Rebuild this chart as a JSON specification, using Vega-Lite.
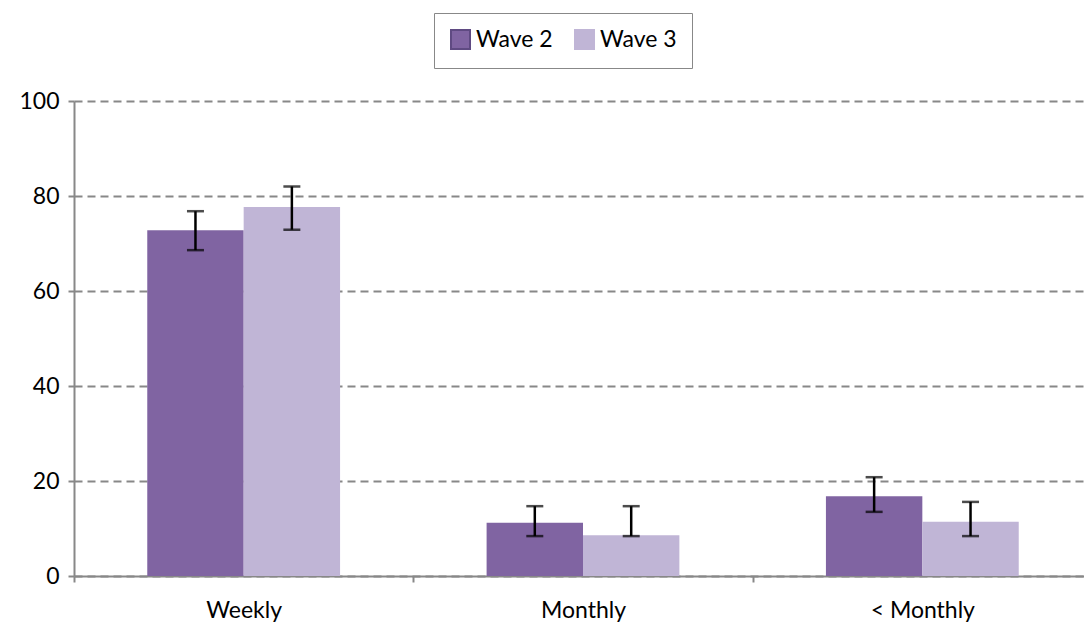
{
  "$schema": "https://vega.github.io/schema/vega-lite/v6.json",
  "width": 1018,
  "height": 475,
  "autosize": {"type": "none"},
  "padding": {"left": 74, "top": 101, "right": 0, "bottom": 48},
  "config": {
    "font": "Lato",
    "view": {"stroke": null},
    "axis": {"labelColor": "#000000", "titleColor": "#000000"}
  },
  "data": {
    "values": [
      {"category": "Weekly", "wave": "Wave 2", "value": 72.8, "lo": 68.6, "hi": 76.8},
      {"category": "Weekly", "wave": "Wave 3", "value": 77.7, "lo": 72.9, "hi": 82.0},
      {"category": "Monthly", "wave": "Wave 2", "value": 11.2, "lo": 8.4, "hi": 14.7},
      {"category": "Monthly", "wave": "Wave 3", "value": 8.6, "lo": 8.4, "hi": 14.7},
      {"category": "< Monthly", "wave": "Wave 2", "value": 16.8, "lo": 13.5, "hi": 20.8},
      {"category": "< Monthly", "wave": "Wave 3", "value": 11.4, "lo": 8.4, "hi": 15.6}
    ]
  },
  "encoding": {
    "x": {
      "field": "category",
      "type": "nominal",
      "sort": ["Weekly", "Monthly", "< Monthly"],
      "scale": {"paddingInner": 0, "paddingOuter": 0},
      "axis": {
        "title": null,
        "labelAngle": 0,
        "labelFontSize": 23,
        "labelPadding": 17,
        "tickBand": "extent",
        "tickColor": "#888888",
        "tickWidth": 2,
        "tickSize": 6,
        "domainColor": "#888888",
        "domainWidth": 2
      }
    },
    "xOffset": {
      "field": "wave",
      "type": "nominal",
      "sort": ["Wave 2", "Wave 3"],
      "scale": {"paddingInner": 0, "paddingOuter": 0.76}
    }
  },
  "layer": [
    {
      "mark": {"type": "bar", "strokeWidth": 0},
      "encoding": {
        "y": {
          "field": "value",
          "type": "quantitative",
          "scale": {"domain": [0, 100], "nice": false},
          "axis": {
            "title": null,
            "values": [0, 20, 40, 60, 80, 100],
            "labelFontSize": 23,
            "labelPadding": 9,
            "grid": true,
            "gridColor": "#888888",
            "gridDash": [8, 5],
            "gridWidth": 2,
            "domainColor": "#888888",
            "domainWidth": 2,
            "tickColor": "#888888",
            "tickWidth": 2,
            "tickSize": 6
          }
        },
        "color": {
          "field": "wave",
          "type": "nominal",
          "sort": ["Wave 2", "Wave 3"],
          "scale": {"domain": ["Wave 2", "Wave 3"], "range": ["#8064a2", "#c0b5d6"]},
          "legend": {
            "title": null,
            "orient": "none",
            "legendX": 360,
            "legendY": -88,
            "direction": "horizontal",
            "strokeColor": "#888888",
            "padding": 15,
            "labelFontSize": 23,
            "labelColor": "#000000",
            "symbolType": "square",
            "symbolSize": 361,
            "symbolStrokeWidth": 2,
            "symbolOpacity": 1,
            "columnPadding": 18,
            "labelOffset": 4
          }
        },
        "stroke": {
          "field": "wave",
          "type": "nominal",
          "sort": ["Wave 2", "Wave 3"],
          "scale": {"domain": ["Wave 2", "Wave 3"], "range": ["#5f4a82", "#c0b5d6"]},
          "legend": {
            "title": null,
            "orient": "none",
            "legendX": 360,
            "legendY": -88,
            "direction": "horizontal",
            "strokeColor": "#888888",
            "padding": 15,
            "labelFontSize": 23,
            "labelColor": "#000000",
            "symbolType": "square",
            "symbolSize": 361,
            "symbolStrokeWidth": 2,
            "columnPadding": 18,
            "labelOffset": 4
          }
        }
      }
    },
    {
      "mark": {"type": "rule", "color": "#000000", "strokeWidth": 2.5},
      "encoding": {
        "y": {"field": "lo", "type": "quantitative"},
        "y2": {"field": "hi"}
      }
    },
    {
      "mark": {"type": "tick", "color": "#000000", "thickness": 2.5, "size": 17},
      "encoding": {"y": {"field": "lo", "type": "quantitative"}}
    },
    {
      "mark": {"type": "tick", "color": "#000000", "thickness": 2.5, "size": 17},
      "encoding": {"y": {"field": "hi", "type": "quantitative"}}
    }
  ]
}
